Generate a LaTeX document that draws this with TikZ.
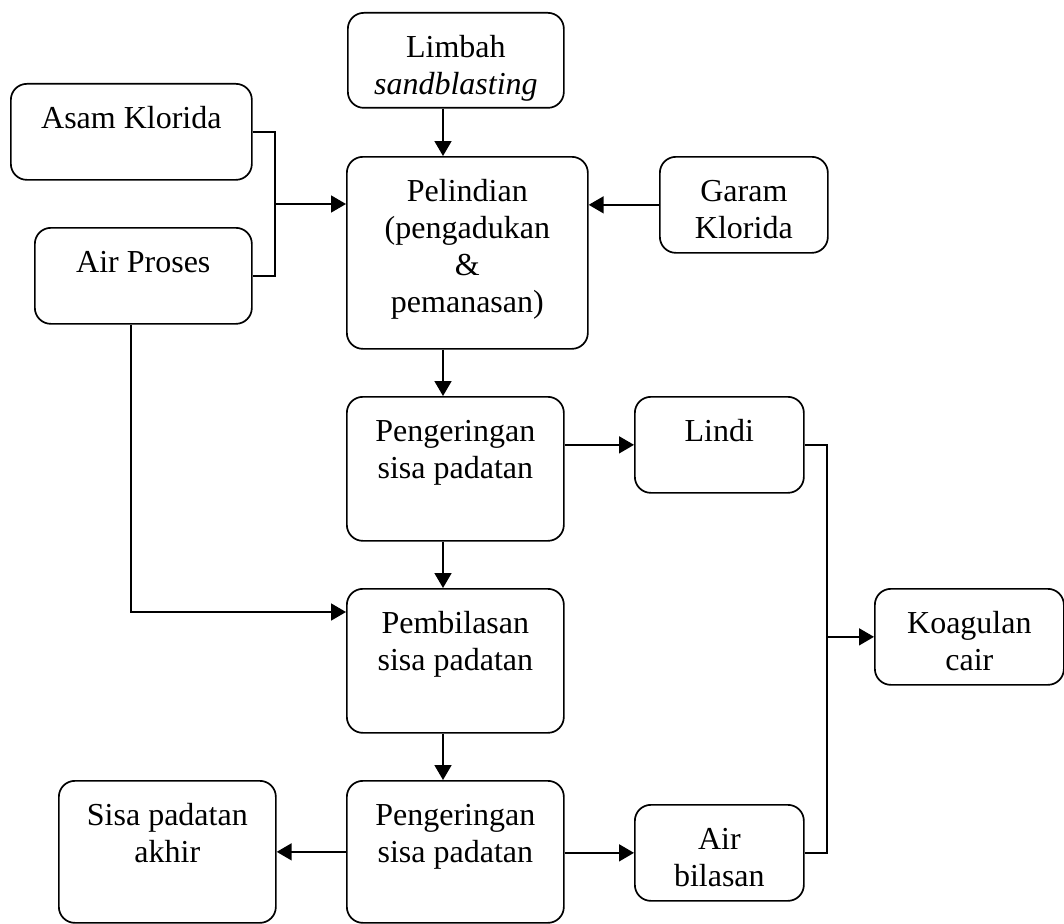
\documentclass[tikz,border=0pt]{standalone}
\usepackage{fontspec}
\setmainfont{Liberation Serif}
\usetikzlibrary{arrows.meta}
\newcommand\bxt[3]{\parbox[c][#2pt][t]{#1pt}{\centering\rule{0pt}{45pt}#3\par}}
\begin{document}
\begin{tikzpicture}[x=1pt,y=-1pt,
 box/.style={draw, line width=1.7pt, rounded corners=16pt, inner sep=0pt, anchor=north west, font=\fontsize{32}{37}\selectfont},
 conn/.style={line width=1.7pt},
 arr/.style={conn, -{Triangle[length=15pt,width=17pt]}}]
\useasboundingbox (0,0) rectangle (1064,923);
\node[box] (limbah) at (347,12) {\bxt{216}{95}{Limbah\\\textit{sandblasting}}};
\node[box] (asam) at (10,83) {\bxt{241}{96}{Asam Klorida}};
\node[box] (pelindian) at (346,156) {\bxt{241}{192}{Pelindian\\(pengadukan\\\&\\pemanasan)}};
\node[box] (garam) at (659,156) {\bxt{168}{96}{Garam\\Klorida}};
\node[box] (airproses) at (34,227) {\bxt{217}{96}{Air Proses}};
\node[box] (peng1) at (346,396) {\bxt{217}{144}{Pengeringan\\sisa padatan}};
\node[box] (lindi) at (634,396) {\bxt{169}{96}{Lindi}};
\node[box] (pembilasan) at (346,588) {\bxt{217}{144}{Pembilasan\\sisa padatan}};
\node[box] (koagulan) at (874,588) {\bxt{189}{96}{Koagulan\\cair}};
\node[box] (peng2) at (346,780) {\bxt{217}{142}{Pengeringan\\sisa padatan}};
\node[box] (sisa) at (58,780) {\bxt{217}{142}{Sisa padatan\\akhir}};
\node[box] (airbilasan) at (634,804) {\bxt{169}{96}{Air\\bilasan}};
% helper coordinates
\coordinate (colx) at (443,0);
\coordinate (jl) at (275,204);
\coordinate (jr) at (827,0);
\coordinate (ap) at (131,0);
\coordinate (pb) at (0,612);
% connectors
\draw[arr] (limbah.south -| colx) -- (pelindian.north -| colx);
\draw[conn] (asam.east) -| (jl) |- (airproses.east);
\draw[arr] (jl) -- (jl -| pelindian.west);
\draw[arr] (garam.west) -- (garam.west -| pelindian.east);
\draw[arr] (pelindian.south -| colx) -- (peng1.north -| colx);
\draw[arr] (lindi.west -| peng1.east) -- (lindi.west);
\draw[arr] (peng1.south -| colx) -- (pembilasan.north -| colx);
\draw[arr] (airproses.south -| ap) |- (pb -| pembilasan.west);
\draw[arr] (pembilasan.south -| colx) -- (peng2.north -| colx);
\draw[arr] (sisa.east -| peng2.west) -- (sisa.east);
\draw[arr] (airbilasan.west -| peng2.east) -- (airbilasan.west);
\draw[conn] (lindi.east) -| (jr |- airbilasan.east) -- (airbilasan.east);
\draw[arr] (koagulan.west -| jr) -- (koagulan.west);
\end{tikzpicture}
\end{document}
